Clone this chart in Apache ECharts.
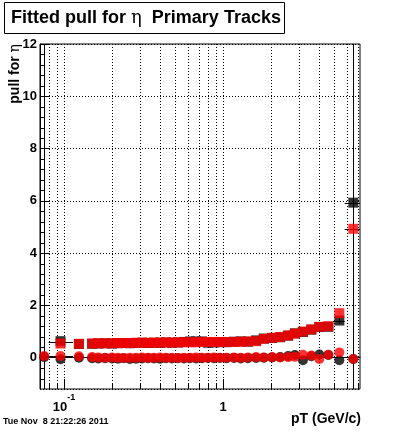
<!DOCTYPE html>
<html><head><meta charset="utf-8">
<script src="https://cdn.jsdelivr.net/npm/echarts@6/dist/echarts.min.js"></script>
<style>html,body{margin:0;padding:0;background:#fff}#c{width:400px;height:433px}</style>
</head><body><div id="c"></div>
<script>
// ---- data ----
const pT = [0.075, 0.095, 0.124, 0.150, 0.164, 0.181, 0.200, 0.218, 0.237, 0.259,
            0.283, 0.309, 0.337, 0.367, 0.401, 0.437, 0.477, 0.520, 0.567, 0.618,
            0.675, 0.736, 0.802, 0.875, 0.953, 1.05, 1.17, 1.29, 1.43, 1.61,
            1.80, 2.03, 2.28, 2.56, 2.82, 3.17, 3.58, 4.02, 4.58, 5.37, 6.57];
const redSquares = [null, 0.54, 0.53, 0.54, 0.55, 0.55, 0.55, 0.56, 0.56, 0.56,
                    0.57, 0.57, 0.57, 0.57, 0.58, 0.58, 0.58, 0.58, 0.59, 0.59,
                    0.59, 0.60, 0.60, 0.60, 0.60, 0.60, 0.60, 0.61, 0.62, 0.63,
                    0.72, 0.76, 0.79, 0.85, 0.92, 1.00, 1.08, 1.18, 1.20, 1.70, 4.93];
const blackSquares = [null, 0.63, 0.52, 0.53, 0.54, 0.55, 0.54, 0.55, 0.56, 0.55,
                      0.56, 0.57, 0.56, 0.57, 0.57, 0.58, 0.57, 0.58, 0.60, 0.62,
                      0.62, 0.62, 0.57, 0.58, 0.59, 0.59, 0.61, 0.62, 0.61, 0.66,
                      0.73, 0.75, 0.78, 0.84, 0.93, 0.98, 1.07, 1.17, 1.18, 1.42, 5.93];
const redCircles = [0.06, 0.06, 0.05, 0.02, 0.01, 0.00, 0.01, 0.00, -0.01, 0.00,
                    0.00, 0.01, 0.00, 0.00, 0.01, 0.00, 0.00, -0.01, 0.00, 0.00,
                    0.01, 0.00, 0.00, 0.01, 0.00, 0.00, 0.01, 0.00, 0.01, 0.02,
                    0.01, 0.02, 0.01, 0.02, 0.03, 0.11, 0.08, -0.05, 0.11, 0.20, -0.05];
const blackCircles = [0.02, -0.06, 0.00, -0.02, -0.03, -0.02, -0.03, -0.04, -0.02, -0.05,
                      -0.04, -0.03, -0.02, -0.03, -0.04, -0.02, -0.03, -0.02, -0.03, -0.02,
                      -0.03, -0.02, -0.01, -0.02, -0.01, -0.02, -0.01, -0.03, -0.02, -0.01,
                      0.00, 0.01, 0.02, 0.06, 0.10, -0.10, 0.05, 0.12, 0.10, -0.10, -0.05];
// error bars: [pT, y, xLow, xHigh, yLow, yHigh]
const errorBars = [
  [0.075, 0.06, 0.060, 0.0855, -20, 20],
  [0.095, 0.06, 0.0855, 0.114, -0.05, 0.1],
  [0.095, 0.61, 0.080, 0.114, 0.55, 0.70],
  [5.37, 1.42, 4.90, 5.80, 1.30, 1.55],
  [6.57, 5.93, 5.80, 7.50, -20, 20],
  [6.57, 4.93, 5.80, 7.50, 4.80, 5.10]
];
const xTicks = [0.08, 0.09, 0.1, 0.2, 0.3, 0.4, 0.5, 0.6, 0.7, 0.8, 0.9, 1, 2, 3, 4, 5, 6, 7];
const xMajorTicks = [0.1, 1];
const yMinorTicks = [-0.8, -0.4, 0.4, 0.8, 1.2, 1.6, 2.4, 2.8, 3.2, 3.6, 4.4, 4.8, 5.2, 5.6,
                     6.4, 6.8, 7.2, 7.6, 8.4, 8.8, 9.2, 9.6, 10.4, 10.8, 11.2, 11.6];
const titleText = 'Fitted pull for ';
const titleGreek = 'η';
const titleRest = '  Primary Tracks';
const yTitle = 'pull for ';
const xTitle = 'pT (GeV/c)';
const dateText = 'Tue Nov  8 21:22:26 2011';

// ---- chart ----
const FONT = '"Liberation Sans", Arial, Helvetica, sans-serif';
const chart = echarts.init(document.getElementById('c'), null, {renderer: 'canvas'});
const pairs = arr => pT.map((x, i) => [x, arr[i]]).filter(p => p[1] !== null);
const snap = v => Math.round(v) + 0.5;

const option = {
  backgroundColor: '#fff',
  animation: false,
  grid: {left: 40, right: 40, top: 44, bottom: 44, show: true, borderColor: '#000', borderWidth: 1, backgroundColor: 'transparent'},
  xAxis: {
    type: 'log', logBase: 10, min: 0.0706, max: 7.24,
    axisLine: {show: true, lineStyle: {color: '#000', width: 1}},
    axisTick: {show: false},
    splitLine: {show: false},
    minorTick: {show: false},
    axisLabel: {
      show: true, margin: 4, showMinLabel: false, showMaxLabel: false,
      formatter: v => {
        if (Math.abs(v - 0.1) < 1e-9) return '{b|10}{s|-1}';
        if (Math.abs(v - 1) < 1e-9) return '{b|1}';
        return '';
      },
      rich: {
        b: {fontFamily: FONT, fontWeight: 'bold', fontSize: 13, color: '#000', lineHeight: 29},
        s: {fontFamily: FONT, fontWeight: 'bold', fontSize: 9, color: '#000', lineHeight: 10, verticalAlign: 'top'}
      }
    }
  },
  yAxis: {
    type: 'value', min: -1.2, max: 12, splitNumber: 6,
    axisLine: {show: true, onZero: false, lineStyle: {color: '#000', width: 1}},
    axisTick: {show: true, inside: true, length: 10, lineStyle: {color: '#000'}},
    splitLine: {show: true, lineStyle: {color: '#000', width: 1, type: [1, 2]}},
    axisLabel: {show: true, margin: 3, showMinLabel: false, fontFamily: FONT, fontWeight: 'bold', fontSize: 13, color: '#000'}
  },
  series: [
    { // x grid lines and x ticks
      type: 'custom', silent: true, z: 1, clip: false,
      data: xTicks.map(v => [v, 0]),
      renderItem: (params, api) => {
        const cs = params.coordSys;
        const v = api.value(0);
        const x = snap(api.coord([v, 0])[0]);
        const yb = cs.y + cs.height;
        const major = xMajorTicks.some(m => Math.abs(m - v) < 1e-9);
        return {type: 'group', children: [
          {type: 'line', shape: {x1: x, y1: cs.y, x2: x, y2: yb}, style: {stroke: '#000', lineWidth: 1, lineDash: [1, 2]}},
          {type: 'line', shape: {x1: x, y1: yb, x2: x, y2: yb - (major ? 10 : 6)}, style: {stroke: '#000', lineWidth: 1}}
        ]};
      }
    },
    { // y minor ticks
      type: 'custom', silent: true, z: 1, clip: false,
      data: yMinorTicks.map(v => [1, v]),
      renderItem: (params, api) => {
        const cs = params.coordSys;
        const y = snap(api.coord([1, api.value(1)])[1]);
        return {type: 'line', shape: {x1: cs.x, y1: y, x2: cs.x + 5, y2: y}, style: {stroke: '#000', lineWidth: 1}};
      }
    },
    { // error bars
      type: 'custom', silent: true, z: 2, clip: false,
      data: errorBars,
      encode: {x: 0, y: 1},
      renderItem: (params, api) => {
        const cs = params.coordSys;
        const cx = v => Math.max(cs.x, Math.min(cs.x + cs.width, v));
        const cy = v => Math.max(cs.y, Math.min(cs.y + cs.height, v));
        const x = api.value(0), y = api.value(1);
        const p = api.coord([x, y]);
        const xl = cx(api.coord([api.value(2), y])[0]);
        const xh = cx(api.coord([api.value(3), y])[0]);
        const yl = cy(api.coord([x, api.value(4)])[1]);
        const yh = cy(api.coord([x, api.value(5)])[1]);
        const px = snap(p[0]), py = snap(p[1]);
        return {type: 'group', children: [
          {type: 'line', shape: {x1: xl, y1: py, x2: xh, y2: py}, style: {stroke: '#000', lineWidth: 1}},
          {type: 'line', shape: {x1: px, y1: yl, x2: px, y2: yh}, style: {stroke: '#000', lineWidth: 1}}
        ]};
      }
    },
    {type: 'scatter', name: 'black squares', symbol: 'rect', symbolSize: 10, z: 3, itemStyle: {color: '#000'}, data: pairs(blackSquares)},
    {type: 'scatter', name: 'black circles', symbol: 'circle', symbolSize: 10, z: 3, itemStyle: {color: '#000'}, data: pairs(blackCircles)},
    {type: 'scatter', name: 'red squares', symbol: 'rect', symbolSize: 10, z: 4, itemStyle: {color: '#ff0000'}, data: pairs(redSquares)},
    {type: 'scatter', name: 'red circles', symbol: 'circle', symbolSize: 10, z: 4, itemStyle: {color: '#ff0000'}, data: pairs(redCircles)}
  ],
  graphic: [
    {type: 'rect', shape: {x: 4.5, y: 2.5, width: 280, height: 31}, style: {fill: '#fff', stroke: '#000', lineWidth: 1}, z: 10},
    {type: 'text', x: 146, y: 18.5, z: 11, style: {
      text: '{a|' + titleText + '}{g|' + titleGreek + '}{a|' + titleRest + '}',
      align: 'center', verticalAlign: 'middle',
      rich: {
        a: {fontFamily: FONT, fontWeight: 'bold', fontSize: 18, fill: '#000'},
        g: {fontFamily: '"DejaVu Serif", serif', fontWeight: 'normal', fontSize: 18, fill: '#000'}
      }
    }},
    {type: 'text', x: 15, y: 44, rotation: Math.PI / 2, z: 11, style: {
      text: '{a|' + yTitle + '}{g|' + titleGreek + '}',
      align: 'right', verticalAlign: 'middle',
      rich: {
        a: {fontFamily: FONT, fontWeight: 'bold', fontSize: 14, fill: '#000'},
        g: {fontFamily: '"DejaVu Serif", serif', fontWeight: 'normal', fontSize: 14, fill: '#000'}
      }
    }},
    {type: 'text', x: 361, y: 419, z: 11, style: {text: xTitle, align: 'right', verticalAlign: 'middle', font: 'bold 14px ' + FONT, fill: '#000'}},
    {type: 'text', x: 3, y: 422, z: 11, style: {text: dateText, align: 'left', verticalAlign: 'middle', font: 'bold 9px ' + FONT, fill: '#000'}}
  ]
};
chart.setOption(option);
</script>
</body></html>
